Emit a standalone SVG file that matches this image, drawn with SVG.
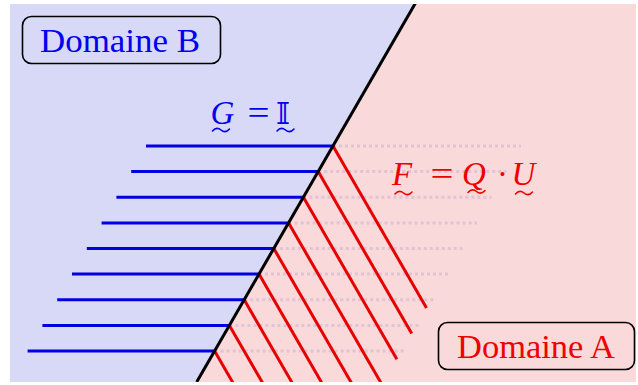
<svg xmlns="http://www.w3.org/2000/svg" width="638" height="385" viewBox="0 0 638 385">
<style>
.blue{stroke:#0000e0;stroke-width:3;fill:none}
.red{stroke:#e60000;stroke-width:3;fill:none}
.dot{stroke:#e0c3d4;stroke-width:3;stroke-dasharray:3 3;fill:none}
.box{fill:none;stroke:#000;stroke-width:1.6}
.lbl{font-family:"Liberation Serif",serif;font-size:33px}
.m{font-family:"Liberation Serif",serif;font-size:33px}
.mi{font-style:italic}
.tb{stroke:#0000f0}
.tr{stroke:#f00000}
</style>
<defs>
<clipPath id="bg"><rect x="10" y="4" width="626" height="378"/></clipPath>
<path id="tilde" d="M0,2.5 C3,-1 5.5,-1 8.5,1.5 C11.5,4 14,4 17,0.5" fill="none" stroke-width="1.6" stroke-linecap="round"/>
</defs>
<g id="background">
<rect x="10" y="4" width="626" height="378" fill="#fad9da"/>
<polygon points="10,4 415,4 196.7,382 10,382" fill="#d8d9f7"/>
</g>
<g id="connectors" clip-path="url(#bg)">
<g id="dotted">
<line class="dot" x1="333" y1="146" x2="521" y2="146"/>
<line class="dot" x1="318.2" y1="171.6" x2="506.2" y2="171.6"/>
<line class="dot" x1="303.4" y1="197.3" x2="491.4" y2="197.3"/>
<line class="dot" x1="288.6" y1="222.9" x2="477" y2="222.9"/>
<line class="dot" x1="273.8" y1="248.5" x2="462.5" y2="248.5"/>
<line class="dot" x1="259" y1="274.1" x2="448" y2="274.1"/>
<line class="dot" x1="244.2" y1="299.8" x2="433.5" y2="299.8"/>
<line class="dot" x1="229.4" y1="325.4" x2="419" y2="325.4"/>
<line class="dot" x1="214.6" y1="351" x2="404.5" y2="351"/>
</g>
<g id="blue-lines">
<line class="blue" x1="146" y1="146" x2="333" y2="146"/>
<line class="blue" x1="131.2" y1="171.6" x2="318.2" y2="171.6"/>
<line class="blue" x1="116.4" y1="197.3" x2="303.4" y2="197.3"/>
<line class="blue" x1="101.6" y1="222.9" x2="288.6" y2="222.9"/>
<line class="blue" x1="86.8" y1="248.5" x2="273.8" y2="248.5"/>
<line class="blue" x1="72" y1="274.1" x2="259" y2="274.1"/>
<line class="blue" x1="57.2" y1="299.8" x2="244.2" y2="299.8"/>
<line class="blue" x1="42.4" y1="325.4" x2="229.4" y2="325.4"/>
<line class="blue" x1="27.6" y1="351" x2="214.6" y2="351"/>
</g>
<g id="red-lines">
<line class="red" x1="333" y1="146" x2="426.5" y2="307.9"/>
<line class="red" x1="318.2" y1="171.6" x2="411.7" y2="333.5"/>
<line class="red" x1="303.4" y1="197.3" x2="396.9" y2="359.2"/>
<line class="red" x1="288.6" y1="222.9" x2="382.1" y2="384.8"/>
<line class="red" x1="273.8" y1="248.5" x2="367.3" y2="410.4"/>
<line class="red" x1="259" y1="274.1" x2="352.5" y2="436"/>
<line class="red" x1="244.2" y1="299.8" x2="337.7" y2="461.7"/>
<line class="red" x1="229.4" y1="325.4" x2="322.9" y2="487.3"/>
<line class="red" x1="214.6" y1="351" x2="308.1" y2="512.9"/>
</g>
<line id="interface" x1="196.7" y1="382" x2="415.5" y2="3" stroke="#000" stroke-width="3"/>
</g>
<g id="domaine-b">
<rect class="box" x="22.5" y="16.5" width="198" height="47" rx="9"/>
<text class="lbl" x="40" y="52" fill="#0000f0" textLength="160" lengthAdjust="spacingAndGlyphs">Domaine B</text>
</g>
<g id="domaine-a">
<rect class="box" x="438.5" y="322.5" width="196" height="47" rx="9"/>
<text class="lbl" x="457" y="358" fill="#f00000" textLength="158" lengthAdjust="spacingAndGlyphs">Domaine A</text>
</g>
<g id="label-g" fill="#0000f0">
<text class="m mi" x="210.5" y="124">G</text>
<text class="m" x="247.5" y="124" textLength="22" lengthAdjust="spacingAndGlyphs">=</text>
<text x="276" y="124" style="font-family:'DejaVu Serif','DejaVu Sans',serif;font-size:30px">𝕀</text>
<use href="#tilde" class="tb" x="212.5" y="128.5"/>
<use href="#tilde" class="tb" x="277" y="128.5"/>
</g>
<g id="label-f" fill="#f00000">
<text class="m mi" x="392" y="185">F</text>
<text class="m" x="430.5" y="185" textLength="23" lengthAdjust="spacingAndGlyphs">=</text>
<text class="m mi" x="462" y="185">Q</text>
<text class="m" x="497" y="185">·</text>
<text class="m mi" x="511.5" y="185">U</text>
<use href="#tilde" class="tr" x="395" y="191.5"/>
<use href="#tilde" class="tr" x="468" y="190"/>
<use href="#tilde" class="tr" x="515.5" y="191.5"/>
</g>
</svg>
